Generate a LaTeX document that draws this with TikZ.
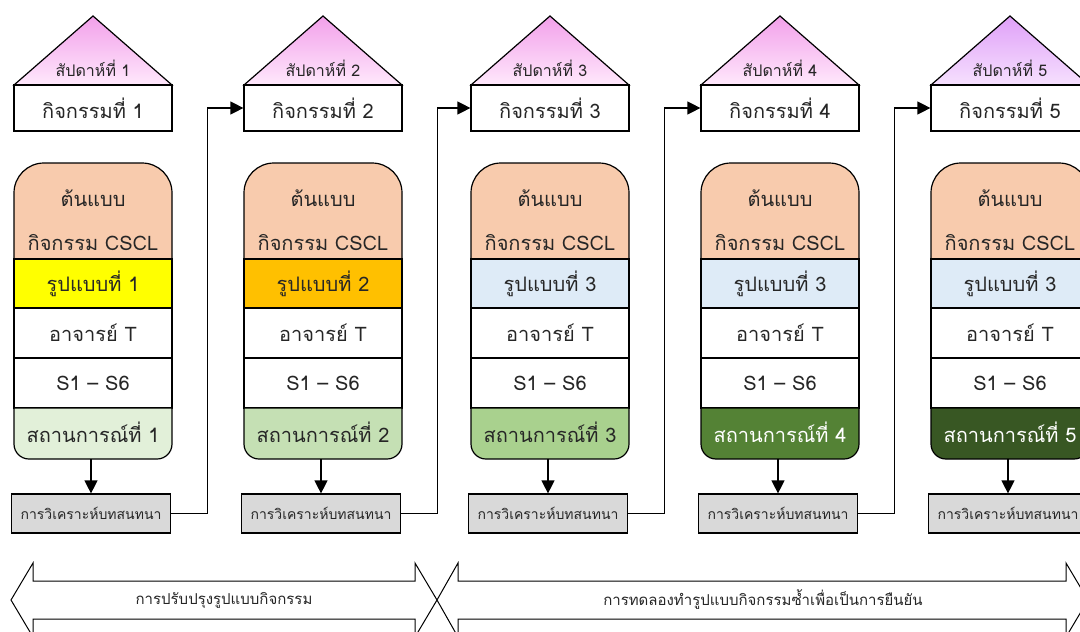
\documentclass[tikz,border=0pt]{standalone}
\usepackage{fontspec}
\newfontfamily\thai[Script=Thai]{Loma}
\usetikzlibrary{arrows.meta}
\definecolor{corange}{HTML}{F8CBAD}
\definecolor{cyel}{HTML}{FFFF00}
\definecolor{cgold}{HTML}{FFC000}
\definecolor{cblue}{HTML}{DEEBF7}
\definecolor{cgA}{HTML}{E2F0D9}
\definecolor{cgB}{HTML}{C5E0B4}
\definecolor{cgC}{HTML}{A9D18E}
\definecolor{cgD}{HTML}{548235}
\definecolor{cgE}{HTML}{385723}
\definecolor{cgray}{HTML}{D9D9D9}
\definecolor{rooftop}{HTML}{F2A0EA}
\definecolor{roofbot}{HTML}{FFE8FC}
\definecolor{rooftopE}{HTML}{DFA0F8}
\definecolor{roofbotE}{HTML}{F6E0FE}
\definecolor{txt}{HTML}{262626}
\begin{document}
\begin{tikzpicture}[x=1pt,y=-1pt,
  every node/.style={text=txt},
  lw/.style={line width=1.2pt},
  mainfont/.style={font=\thai\fontsize{20}{23}\selectfont},
  rooffont/.style={font=\thai\fontsize{16}{18}\selectfont},
  smallfont/.style={font=\thai\fontsize{14}{16}\selectfont},
  arrowfont/.style={font=\thai\fontsize{15}{17}\selectfont},
  actbox/.style={draw, lw, fill=white, minimum width=158pt, minimum height=46pt, inner sep=0pt, mainfont},
  segbox/.style={draw, lw, minimum width=158pt, minimum height=50pt, inner sep=0pt, mainfont},
  lbl/.style={inner sep=0pt, mainfont},
  roofl/.style={inner sep=0pt, rooffont},
  arrl/.style={inner sep=0pt, arrowfont},
  anabox/.style={draw, lw, fill=cgray, minimum width=159pt, minimum height=39pt, inner sep=0pt, smallfont},
  conn/.style={lw, -{Triangle[length=13pt,width=13pt]}},
  bigarrow/.style={draw, line width=1pt, fill=white}
]
\useasboundingbox (0,0) rectangle (1080,632);
\clip (0,0) rectangle (1080,632);

\foreach \i/\cx/\pc/\f/\gc/\gt/\rt/\rb in {
  1/93/cyel/1/cgA/txt/rooftop/roofbot,
  2/323/cgold/2/cgB/txt/rooftop/roofbot,
  3/550/cblue/3/cgC/txt/rooftop/roofbot,
  4/780/cblue/3/cgD/white/rooftop/roofbot,
  5/1010/cblue/3/cgE/white/rooftopE/roofbotE}
{
  % roof
  \shadedraw[lw, top color=\rt, bottom color=\rb] (\cx-79,85) -- (\cx,16) -- (\cx+79,85) -- cycle;
  \node[roofl] (w\i) at (\cx,68) {สัปดาห์ที่ \i};
  \node[actbox] (a\i) at (\cx,108) {กิจกรรมที่ \i};
  % prototype top
  \draw[lw, fill=corange] (\cx-79,259) -- (\cx-79,193) arc[start angle=180, end angle=270, radius=30]
     -- (\cx+49,163) arc[start angle=270, end angle=360, radius=30] -- (\cx+79,259) -- cycle;
  \node[lbl] (p\i) at (\cx,198) {ต้นแบบ};
  \node[lbl] (c\i) at (\cx,243) {กิจกรรม CSCL};
  \node[segbox, fill=\pc, minimum height=49pt] (f\i) at (\cx,283.5) {รูปแบบที่ \f};
  \node[segbox, fill=white] (t\i) at (\cx,333) {อาจารย์ T};
  \node[segbox, fill=white] (s\i) at (\cx,383) {S1 – S6};
  % situation bottom
  \draw[lw, fill=\gc] (\cx-79,408) -- (\cx-79,444) arc[start angle=180, end angle=90, radius=15]
     -- (\cx+64,459) arc[start angle=90, end angle=0, radius=15] -- (\cx+79,408) -- cycle;
  \node[lbl, text=\gt] (g\i) at (\cx,432) {สถานการณ์ที่ \i};
  \coordinate (gb\i) at (\cx-2,459);
  \node[anabox] (an\i) at (\cx-2,513.5) {การวิเคราะห์บทสนทนา};
  \draw[conn] (gb\i) -- (an\i.north);
}

\foreach \i/\j in {1/2,2/3,3/4,4/5}
  \draw[conn] (an\i.east) -- ++(36,0) |- (a\j.west);

% bottom double arrows
\path[bigarrow] (11,600) -- (33,563) -- (33,581) -- (415,581) -- (415,563) -- (437,600)
   -- (415,637) -- (415,619) -- (33,619) -- (33,637) -- cycle;
\path[bigarrow] (437,600) -- (458,563) -- (458,581) -- (1066,581) -- (1066,563) -- (1088,600)
   -- (1066,637) -- (1066,619) -- (458,619) -- (458,637) -- cycle;
\node[arrl] (b1) at (224,600) {การปรับปรุงรูปแบบกิจกรรม};
\node[arrl] (b2) at (763,600) {การทดลองทำรูปแบบกิจกรรมซ้ำเพื่อเป็นการยืนยัน};
\end{tikzpicture}
\end{document}
